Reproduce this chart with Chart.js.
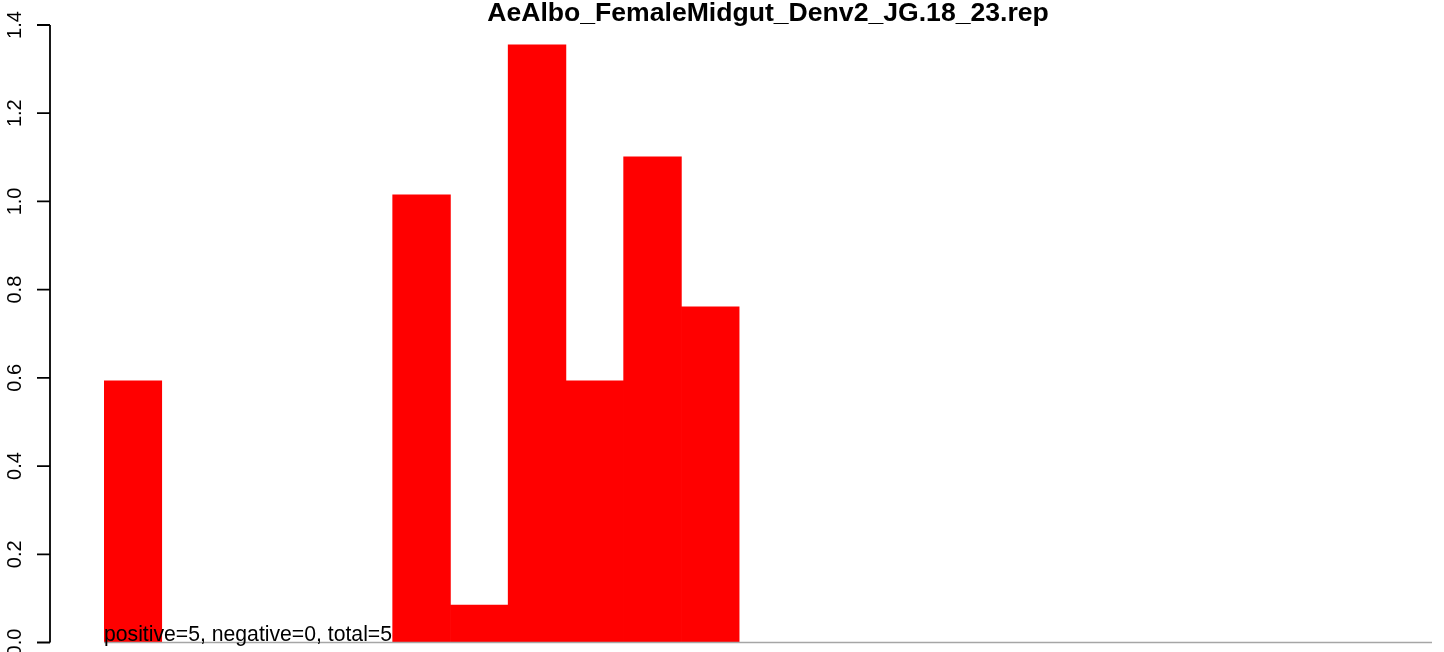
<!DOCTYPE html>
<html>
<head>
<meta charset="utf-8">
<script src="https://cdn.jsdelivr.net/npm/chart.js@4/dist/chart.umd.min.js"></script>
<style>
  html, body { margin: 0; padding: 0; background: #fff; }
  #wrap { width: 1444px; height: 652px; position: relative; }
</style>
</head>
<body>
<div id="wrap"><canvas id="chart"></canvas></div>
<script>
// Chart data (23 bins, unlabeled on the x axis)
const title = 'AeAlbo_FemaleMidgut_Denv2_JG.18_23.rep';
const note = 'positive=5, negative=0, total=5';
const categories = ['1', '2', '3', '4', '5', '6', '7', '8', '9', '10', '11', '12',
  '13', '14', '15', '16', '17', '18', '19', '20', '21', '22', '23'];
const values = [0.593, 0, 0, 0, 0, 1.015, 0.085, 1.355, 0.593, 1.101, 0.761, 0,
  0, 0, 0, 0, 0, 0, 0, 0, 0, 0, 0];
const yTicks = [0, 0.2, 0.4, 0.6, 0.8, 1.0, 1.2, 1.4];

const FONT = '"Liberation Sans", Arial, Helvetica, sans-serif';

// R-style decorations: title, rotated y axis, grey baseline, count note
const rDecor = {
  id: 'rDecor',
  afterDatasetsDraw(chart) {
    const { ctx, chartArea, scales } = chart;
    const y = scales.y;
    const y0 = y.getPixelForValue(0);
    ctx.save();

    // grey baseline under the bars
    ctx.strokeStyle = '#a6a6a6';
    ctx.lineWidth = 1.5;
    ctx.beginPath();
    ctx.moveTo(chartArea.left, y0);
    ctx.lineTo(chartArea.right, y0);
    ctx.stroke();

    // y axis line and ticks
    const axisX = 50;
    ctx.strokeStyle = '#000';
    ctx.lineWidth = 1.8;
    ctx.beginPath();
    ctx.moveTo(axisX, y.getPixelForValue(yTicks[0]));
    ctx.lineTo(axisX, y.getPixelForValue(yTicks[yTicks.length - 1]));
    yTicks.forEach(v => {
      const py = y.getPixelForValue(v);
      ctx.moveTo(axisX, py);
      ctx.lineTo(axisX - 13, py);
    });
    ctx.stroke();

    // rotated tick labels
    ctx.fillStyle = '#000';
    ctx.font = '20px ' + FONT;
    ctx.textAlign = 'center';
    ctx.textBaseline = 'alphabetic';
    yTicks.forEach(v => {
      ctx.save();
      ctx.translate(20.7, y.getPixelForValue(v));
      ctx.rotate(-Math.PI / 2);
      ctx.fillText(v.toFixed(1), 0, 0);
      ctx.restore();
    });

    // note at the bottom left of the plot
    ctx.font = '21.2px ' + FONT;
    ctx.textAlign = 'left';
    ctx.fillText(note, chartArea.left, 641);

    // title
    ctx.font = 'bold 26.6px ' + FONT;
    ctx.textAlign = 'center';
    ctx.fillText(title, (chartArea.left + chartArea.right) / 2, 20.5);

    ctx.restore();
  }
};

new Chart(document.getElementById('chart'), {
  type: 'bar',
  data: {
    labels: categories,
    datasets: [{
      data: values,
      backgroundColor: '#ff0000',
      borderWidth: 0,
      barPercentage: 1,
      categoryPercentage: 1
    }]
  },
  options: {
    responsive: true,
    maintainAspectRatio: false,
    animation: false,
    layout: { padding: { left: 104, right: 12, top: 25, bottom: 9.5 } },
    plugins: {
      legend: { display: false },
      title: { display: false },
      tooltip: { enabled: false }
    },
    scales: {
      x: { display: false, offset: true },
      y: { display: false, min: 0, max: 1.4 }
    }
  },
  plugins: [rDecor]
});
</script>
</body>
</html>
